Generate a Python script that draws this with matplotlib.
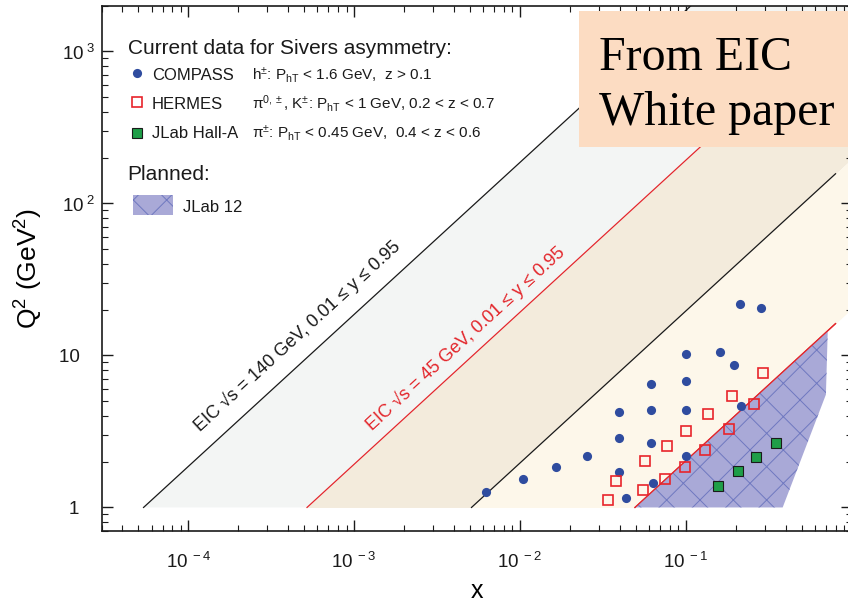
import numpy as np
import matplotlib.pyplot as plt
from matplotlib.patches import Polygon, Rectangle
from matplotlib.lines import Line2D
from matplotlib.ticker import FixedLocator, FuncFormatter, LogLocator, NullFormatter

plt.rcParams['font.family'] = ['Liberation Sans', 'DejaVu Sans']
plt.rcParams['mathtext.fontset'] = 'custom'
plt.rcParams['mathtext.rm'] = 'Liberation Sans'
plt.rcParams['mathtext.it'] = 'Liberation Sans:italic'
plt.rcParams['mathtext.bf'] = 'Liberation Sans:bold'
plt.rcParams['hatch.linewidth'] = 0.7

# current data (x, Q^2 in GeV^2)
compass_x = [0.0062, 0.0104, 0.0164, 0.0255, 0.0397, 0.0397, 0.0397, 0.0436,
             0.0619, 0.0619, 0.0619, 0.0634, 0.100, 0.100, 0.100, 0.100,
             0.161, 0.196, 0.215, 0.212, 0.284]
compass_q2 = [1.27, 1.55, 1.835, 2.17, 4.22, 2.88, 1.71, 1.146,
              6.53, 4.40, 2.66, 1.455, 10.3, 6.76, 4.35, 2.17,
              10.56, 8.67, 4.68, 21.9, 20.4]

hermes_x = [0.034, 0.0381, 0.055, 0.057, 0.0752, 0.077, 0.0985, 0.100,
            0.1306, 0.1356, 0.183, 0.189, 0.258, 0.292]
hermes_q2 = [1.124, 1.49, 1.31, 2.01, 1.545, 2.55, 1.85, 3.17,
             2.39, 4.10, 3.26, 5.44, 4.80, 7.64]

halla_x = [0.1557, 0.2056, 0.265, 0.350]
halla_q2 = [1.375, 1.75, 2.16, 2.67]

# planned JLab 12 coverage (polygon corners)
jlab12_x = [0.0494, 0.718, 0.700, 0.384]
jlab12_q2 = [1.0, 14.5, 5.53, 1.0]

# EIC kinematic limits: Q^2 = x * y * s
eic_sqrt_s = [140, 45]
eic_colors = ['#1a1a1a', '#e3262b']
y_lo, y_hi = 0.01, 0.95
x_end = 0.8

W, H = 848, 604
fig = plt.figure(figsize=(W / 100, H / 100), dpi=100)
ax = fig.add_axes([101.6 / W, 73 / H, 750 / W, 525.3 / H])
ax.set_xscale('log')
ax.set_yscale('log')
ax.set_xlim(3e-5, 1)
ax.set_ylim(0.7, 2000)


def fig_xy(px, py):
    return px / W, 1 - py / H


# shaded bands
xs = np.logspace(np.log10(3e-5), 0, 600)
s140, s45 = eic_sqrt_s[0] ** 2, eic_sqrt_s[1] ** 2
top = 1e5
hi140 = np.clip(xs * y_hi * s140, 1, top)
lo140 = np.clip(xs * y_lo * s140, 1, top)
hi45 = np.clip(xs * y_hi * s45, 1, top)
lo45 = np.clip(xs * y_lo * s45, 1, top)
ax.fill_between(xs, hi45, hi140, color='#f3f5f4', lw=0, zorder=1)
ax.fill_between(xs, lo140, hi45, color='#f3ebdc', lw=0, zorder=1)
ax.fill_between(xs, lo45, lo140, color='#fdf7ea', lw=0, zorder=1)

for rs, col in zip(eic_sqrt_s, eic_colors):
    for yy in (y_hi, y_lo):
        xl = np.array([1.0 / (yy * rs ** 2), x_end])
        ax.plot(xl, xl * yy * rs ** 2, color=col, lw=0.9, zorder=2)

# JLab 12 region
ax.add_patch(Polygon(np.column_stack([jlab12_x, jlab12_q2]), closed=True,
                     facecolor='#a9a9d7', edgecolor='#6f78c0', lw=0,
                     hatch='x', zorder=3))
# red line on top of the hatch
xl = np.array([1.0 / (y_lo * s45), x_end])
ax.plot(xl, xl * y_lo * s45, color=eic_colors[1], lw=0.9, zorder=3.5)

# data points
ax.plot(compass_x, compass_q2, 'o', ms=6.6, color='#2f4c9f', mec='none', zorder=5)
ax.plot(hermes_x, hermes_q2, 's', ms=6.6, mfc='none', mec='#e8242b', mew=1.2, zorder=5)
ax.plot(halla_x, halla_q2, 's', ms=6.6, mfc='#1f9e48', mec='#1a1a1a', mew=0.8, zorder=5)

# band labels along the lines
fig.canvas.draw()
for rs, col, xt, qt in [(140, eic_colors[0], 1.23e-4, 2.98),
                        (45, eic_colors[1], 1.34e-3, 3.02)]:
    p0 = ax.transData.transform((1e-3, 1e-3 * y_hi * rs ** 2))
    p1 = ax.transData.transform((1e-2, 1e-2 * y_hi * rs ** 2))
    ang = np.degrees(np.arctan2(p1[1] - p0[1], p1[0] - p0[0]))
    ax.text(xt, qt, 'EIC \u221as = %d GeV, 0.01 \u2264 y \u2264 0.95' % rs,
            color=col, fontsize=13, rotation=ang, rotation_mode='anchor',
            ha='left', va='bottom', zorder=6)

# ticks
ax.tick_params(which='both', direction='in', top=True, right=True, colors='#1a1a1a')
ax.tick_params(which='major', length=8, width=1.0, labelsize=13.5)
ax.tick_params(which='minor', length=4, width=0.8)
ax.tick_params(axis='y', pad=4.5)
ax.tick_params(axis='x', pad=15)
ax.xaxis.set_major_locator(FixedLocator([1e-4, 1e-3, 1e-2, 1e-1, 1]))
ax.xaxis.set_minor_locator(LogLocator(base=10, subs=np.arange(2, 10), numticks=20))
ax.yaxis.set_major_locator(FixedLocator([1, 10, 100, 1000]))
ax.yaxis.set_minor_locator(LogLocator(base=10, subs=np.arange(2, 10), numticks=20))
ax.xaxis.set_minor_formatter(NullFormatter())
ax.yaxis.set_minor_formatter(NullFormatter())


def xfmt(v, pos):
    e = int(round(np.log10(v)))
    if e >= 0:
        return ''
    return r'$\mathregular{10^{\ %d}}$' % e


def yfmt(v, pos):
    e = int(round(np.log10(v)))
    pad = '\u00a0\u00a0\u00a0'
    if e == 0:
        return '1' + pad
    if e == 1:
        return '10' + pad
    return r'$\mathregular{10^{\ %d}}$' % e


ax.xaxis.set_major_formatter(FuncFormatter(xfmt))
ax.yaxis.set_major_formatter(FuncFormatter(yfmt))
for sp in ax.spines.values():
    sp.set_linewidth(1.2)
    sp.set_color('#1a1a1a')

ax.set_xlabel('x', fontsize=18, labelpad=5)
ax.set_ylabel(r'Q$^2$ (GeV$^2$)', fontsize=19, labelpad=10)

# legend, drawn by hand
fig.text(*fig_xy(127.7, 54), 'Current data for Sivers asymmetry:', fontsize=15,
         va='baseline', color='#1a1a1a')
rows = [
    (80, 73.3, dict(marker='o', color='#2f4c9f', mec='none'), 'COMPASS',
     r'h$^{\pm}$: P$_{\mathregular{hT}}$ < 1.6 GeV,  z > 0.1'),
    (109, 102.3, dict(marker='s', mfc='none', mec='#e8242b', mew=1.2), 'HERMES',
     '\u03c0' + r'$^{0,\pm}$, K$^{\pm}$: P$_{\mathregular{hT}}$ < 1 GeV, 0.2 < z < 0.7'),
    (138.3, 133, dict(marker='s', mfc='#1f9e48', mec='#1a1a1a', mew=0.8), 'JLab Hall-A',
     '\u03c0' + r'$^{\pm}$: P$_{\mathregular{hT}}$ < 0.45 GeV,  0.4 < z < 0.6'),
]
for base, my, mk, name, desc in rows:
    mx, myf = fig_xy(137.3, my)
    fig.add_artist(Line2D([mx], [myf], ms=6.6, ls='none', **mk))
    fig.text(*fig_xy(151.7, base), name, fontsize=12, va='baseline', color='#1a1a1a')
    fig.text(*fig_xy(251.7, base), desc, fontsize=11, va='baseline', color='#1a1a1a')

fig.text(*fig_xy(127.7, 180), 'Planned:', fontsize=15, va='baseline', color='#1a1a1a')
rx, ry = fig_xy(133, 215)
fig.add_artist(Rectangle((rx, ry), 40 / W, 20 / H, transform=fig.transFigure,
                         facecolor='#a9a9d7', edgecolor='#6f78c0', lw=0, hatch='x'))
fig.text(*fig_xy(183, 211.7), 'JLab 12', fontsize=12, va='baseline', color='#1a1a1a')

# overlay note
bx, by = fig_xy(579.3, 146.7)
fig.add_artist(Rectangle((bx, by), 1 - bx, (146.7 - 11) / H, transform=fig.transFigure,
                         facecolor='#fcdcc2', edgecolor='none', zorder=10))
fig.text(*fig_xy(599, 70), 'From EIC', fontsize=34.5, family='Liberation Serif',
         va='baseline', zorder=11)
fig.text(*fig_xy(599, 125), 'White paper', fontsize=34.5, family='Liberation Serif',
         va='baseline', zorder=11)

fig.savefig('out.png', dpi=100)
